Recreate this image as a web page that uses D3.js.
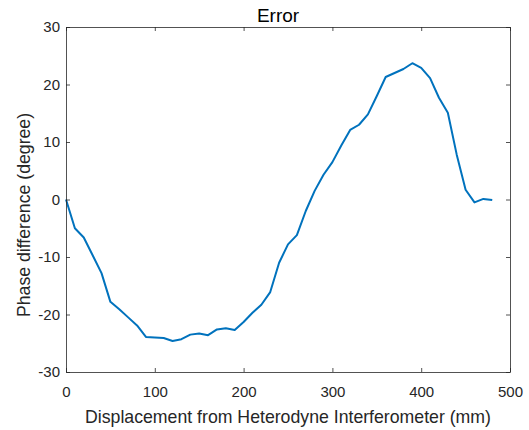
<!DOCTYPE html>
<html>
<head>
<meta charset="utf-8">
<script src="https://cdn.jsdelivr.net/npm/d3@7"></script>
<style>
  html, body { margin: 0; padding: 0; background: #fff; }
  svg { display: block; }
  text { font-family: "Liberation Sans", Arial, Helvetica, sans-serif; }
</style>
</head>
<body>
<div id="chart"></div>
<script>
const titleText = "Error";
const xLabel = "Displacement from Heterodyne Interferometer (mm)";
const yLabel = "Phase difference (degree)";
const xTicks = [0, 100, 200, 300, 400, 500];
const yTicks = [-30, -20, -10, 0, 10, 20, 30];
const displacement = [0, 10, 20, 30, 40, 50, 60, 70, 80, 90, 100, 110, 120, 130, 140, 150, 160, 170, 180, 190,
  200, 210, 220, 230, 240, 250, 260, 270, 280, 290, 300, 310, 320, 330, 340, 350, 360, 370, 380, 390,
  400, 410, 420, 430, 440, 450, 460, 470, 480];
const phaseDiff = [0, -5.0, -6.6, -9.7, -12.8, -17.8, -19.1, -20.5, -21.9, -23.9, -24.0, -24.1, -24.6, -24.3, -23.5, -23.3, -23.6, -22.6, -22.4, -22.7,
  -21.3, -19.7, -18.3, -16.1, -11.0, -7.8, -6.2, -2.0, 1.5, 4.3, 6.5, 9.4, 12.1, 13.0, 14.8, 18.0, 21.3, 22.0, 22.7, 23.7,
  22.9, 21.1, 17.7, 15.1, 7.8, 1.7, -0.5, 0.1, -0.1];

const W = 529, H = 430;
const m = { left: 66, right: 19, top: 27, bottom: 58 };
const svg = d3.select("#chart").append("svg").attr("width", W).attr("height", H);

const x = d3.scaleLinear().domain([0, 500]).range([m.left, W - m.right]);
const y = d3.scaleLinear().domain([-30, 30]).range([H - m.bottom, m.top]);

const axisColor = "#262626";
const tickLen = 4;
const fontStack = '"Liberation Sans", Arial, sans-serif';

// line
const line = d3.line().x((d, i) => x(displacement[i])).y(d => y(d));
svg.append("path")
  .datum(phaseDiff)
  .attr("d", line)
  .attr("fill", "none")
  .attr("stroke", "#0072BD")
  .attr("stroke-width", 2)
  .attr("stroke-linejoin", "round");

// axes
const fmt = d => String(d);
const gx = svg.append("g").attr("transform", `translate(0,${y(-30)})`)
  .call(d3.axisBottom(x).tickValues(xTicks).tickFormat(fmt).tickSizeInner(-tickLen).tickSizeOuter(0).tickPadding(14));
const gxTop = svg.append("g").attr("transform", `translate(0,${y(30)})`)
  .call(d3.axisTop(x).tickValues(xTicks).tickFormat("").tickSizeInner(-tickLen).tickSizeOuter(0));
const gy = svg.append("g").attr("transform", `translate(${x(0)},0)`)
  .call(d3.axisLeft(y).tickValues(yTicks).tickFormat(fmt).tickSizeInner(-tickLen).tickSizeOuter(0).tickPadding(6));
const gyRight = svg.append("g").attr("transform", `translate(${x(500)},0)`)
  .call(d3.axisRight(y).tickValues(yTicks).tickFormat("").tickSizeInner(-tickLen).tickSizeOuter(0));

[gx, gxTop, gy, gyRight].forEach(g => {
  g.select(".domain").attr("stroke", axisColor).attr("stroke-width", 0.8);
  g.selectAll(".tick line").attr("stroke", axisColor).attr("stroke-width", 0.8);
  g.selectAll(".tick text").attr("fill", axisColor).attr("font-size", 15)
    .style("font-family", fontStack);
});

// title
svg.append("text")
  .attr("x", 278).attr("y", 21.5)
  .attr("text-anchor", "middle")
  .attr("font-size", 19)
  .attr("fill", "#000")
  .text(titleText);

// x label
svg.append("text")
  .attr("x", (x(0) + x(500)) / 2).attr("y", 422.5)
  .attr("text-anchor", "middle")
  .attr("font-size", 17.7)
  .attr("fill", axisColor)
  .text(xLabel);

// y label
svg.append("text")
  .attr("transform", `translate(30,215) rotate(-90)`)
  .attr("text-anchor", "middle")
  .attr("font-size", 17.7)
  .attr("fill", axisColor)
  .text(yLabel);
</script>
</body>
</html>
